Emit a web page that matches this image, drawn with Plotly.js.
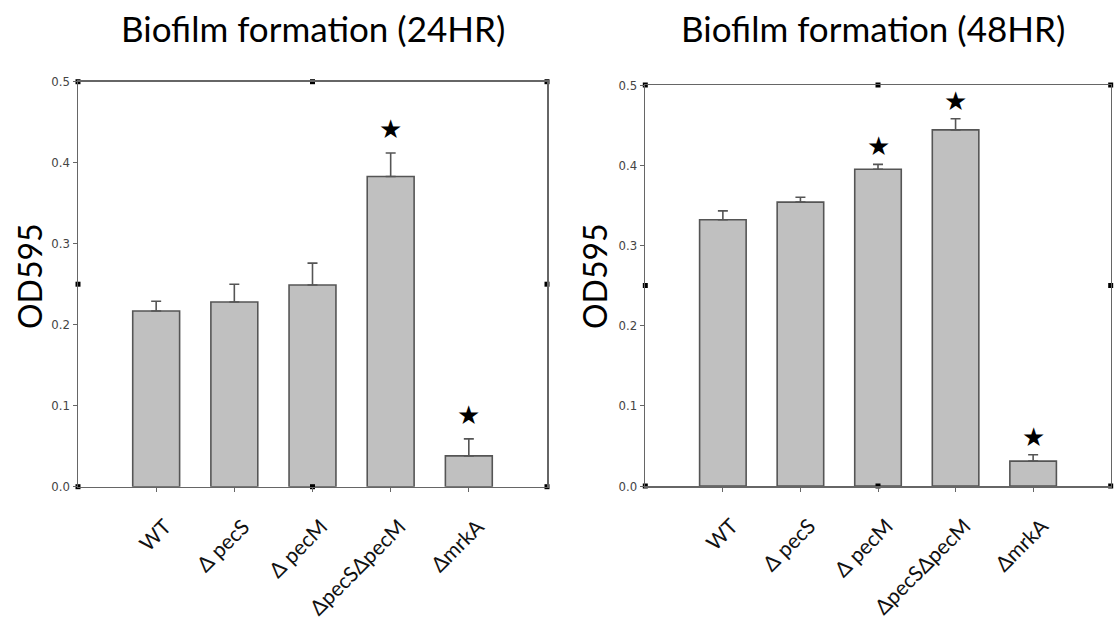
<!DOCTYPE html>
<html>
<head>
<meta charset="utf-8">
<script src="https://cdn.plot.ly/plotly-3.0.1.min.js"></script>
<style>
  html, body { margin: 0; padding: 0; background: #fff; }
  #chart { width: 1115px; height: 621px; }
</style>
</head>
<body>
<div id="chart"></div>
<script>
// ---- data ----
const categories = ['WT', 'Δ pecS', 'Δ pecM', 'ΔpecSΔpecM', 'ΔmrkA'];
const od24 = [0.217, 0.228, 0.249, 0.383, 0.038];
const err24 = [0.012, 0.022, 0.027, 0.029, 0.021];
const sig24 = [false, false, false, true, true];
const od48 = [0.332, 0.354, 0.395, 0.444, 0.031];
const err48 = [0.011, 0.006, 0.006, 0.014, 0.008];
const sig48 = [false, false, true, true, true];
const titles = ['Biofilm formation (24HR)', 'Biofilm formation (48HR)'];
const yTitle = 'OD595';
const yTicks = [0, 0.1, 0.2, 0.3, 0.4, 0.5];

// ---- styling ----
const labelFont = 'Lato, Carlito, Calibri, "Open Sans", sans-serif';
const tickFont = '"Liberation Sans Narrow", "Arial Narrow", "DejaVu Sans Condensed", sans-serif';
const xIdx = categories.map((_, i) => i);

function barTrace(vals, errs, xa, ya) {
  return {
    type: 'bar', x: xIdx, y: vals, xaxis: xa, yaxis: ya, width: 0.6,
    marker: { color: '#c0c0c0', line: { color: '#555', width: 1.6 } },
    error_y: { type: 'data', symmetric: false, array: errs, arrayminus: errs.map(() => 0),
               color: '#555', thickness: 1.6, width: 5 },
    hoverinfo: 'skip', showlegend: false
  };
}
function handleTrace(xa, ya) {
  const xs = [-1, 2, 5, 5, 5, 2, -1, -1];
  const ys = [0.5, 0.5, 0.5, 0.25, 0, 0, 0, 0.25];
  return { type: 'scatter', mode: 'markers', x: xs, y: ys, xaxis: xa, yaxis: ya,
           marker: { symbol: 'square', size: 5, color: '#000' }, cliponaxis: false,
           hoverinfo: 'skip', showlegend: false };
}

const data = [
  barTrace(od24, err24, 'x', 'y'),
  barTrace(od48, err48, 'x2', 'y2'),
  handleTrace('x', 'y'),
  handleTrace('x2', 'y2')
];

function xAxis(domain, anchor) {
  return {
    domain: domain, anchor: anchor, range: [-1, 5], fixedrange: true,
    tickvals: xIdx, ticktext: categories, tickangle: -45,
    tickfont: { family: labelFont, size: 21, color: '#111' },
    ticks: 'outside', ticklen: 4, tickcolor: '#666', tickwidth: 1,
    showline: true, mirror: true, linecolor: '#666', linewidth: 1.5,
    showgrid: false, zeroline: false, ticklabelstandoff: 14, ticklabelshift: 9
  };
}
function yAxis(domain, anchor) {
  return {
    domain: domain, anchor: anchor, range: [0, 0.5], fixedrange: true,
    tickvals: yTicks, tickformat: '.1f',
    tickfont: { family: tickFont, size: 13, color: '#444' },
    ticks: 'outside', ticklen: 4, tickcolor: '#666', tickwidth: 1,
    showline: true, mirror: true, linecolor: '#666', linewidth: 1.5,
    showgrid: false, zeroline: false
  };
}

const annotations = [];
[[titles[0], 0.2807], [titles[1], 0.7834]].forEach(([t, x]) => {
  annotations.push({ text: t, xref: 'paper', yref: 'paper', x: x, y: 1 - 28 / 621,
    xanchor: 'center', yanchor: 'middle', showarrow: false,
    font: { family: labelFont, size: 35, color: '#000' } });
});
[29 / 1115, 594 / 1115].forEach(x => {
  annotations.push({ text: yTitle, xref: 'paper', yref: 'paper', x: x, y: 1 - 276 / 621,
    xanchor: 'center', yanchor: 'middle', textangle: -90, showarrow: false,
    font: { family: labelFont, size: 32, color: '#000' } });
});
function stars(vals, errs, sig, xa, ya, shift) {
  sig.forEach((s, i) => {
    if (!s) return;
    annotations.push({ text: '★', xref: xa, yref: ya, x: xIdx[i], y: vals[i] + errs[i],
      xanchor: 'center', yanchor: 'middle', yshift: shift, showarrow: false,
      font: { family: 'DejaVu Sans, sans-serif', size: 26, color: '#000' } });
  });
}
stars(od24, err24, sig24, 'x', 'y', 24);
stars(od48, err48, sig48, 'x2', 'y2', 18);

const layout = {
  width: 1115, height: 621,
  margin: { l: 0, r: 0, t: 0, b: 0 },
  paper_bgcolor: '#fff', plot_bgcolor: '#fff',
  showlegend: false,
  xaxis: xAxis([78 / 1115, 547 / 1115], 'y'),
  yaxis: yAxis([1 - 486.7 / 621, 1 - 81.7 / 621], 'x'),
  xaxis2: xAxis([645.3 / 1115, 1110.7 / 1115], 'y2'),
  yaxis2: yAxis([1 - 486 / 621, 1 - 85 / 621], 'x2'),
  annotations: annotations
};

Plotly.newPlot('chart', data, layout, { displayModeBar: false, staticPlot: true });
</script>
</body>
</html>
